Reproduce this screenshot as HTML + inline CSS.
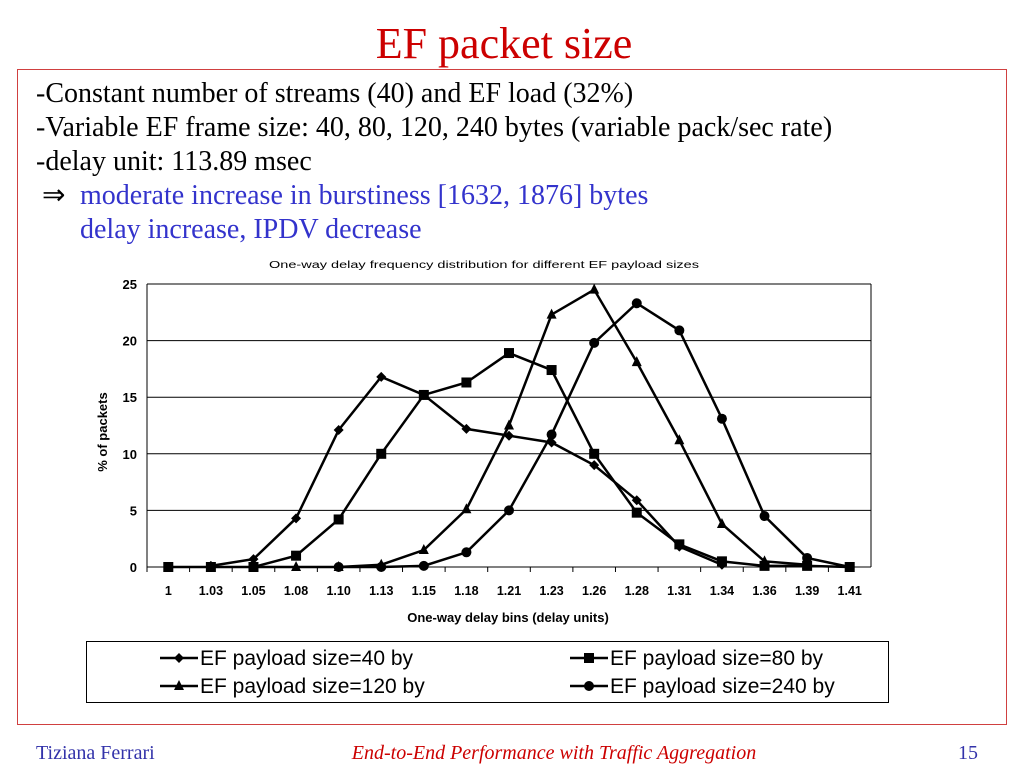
<!DOCTYPE html>
<html><head><meta charset="utf-8"><style>
html,body{margin:0;padding:0;background:#fff;width:1024px;height:768px;overflow:hidden}
</style></head><body>
<svg width="1024" height="768" viewBox="0 0 1024 768" xmlns="http://www.w3.org/2000/svg">
<text x="504" y="58" text-anchor="middle" font-family="Liberation Serif, serif" font-size="44" fill="#cc0000">EF packet size</text>
<rect x="17.5" y="69.5" width="989" height="655" fill="none" stroke="#d04040" stroke-width="1"/>
<g font-family="Liberation Serif, serif" font-size="28">
<text x="36" y="102" fill="#000">-Constant number of streams (40) and EF load (32%)</text>
<text x="36" y="136" fill="#000">-Variable EF frame size: 40, 80, 120, 240 bytes (variable pack/sec rate)</text>
<text x="36" y="170" fill="#000">-delay unit: 113.89 msec</text>
<text x="42" y="204" fill="#000">⇒</text>
<text x="80" y="204" fill="#3333cc">moderate increase in burstiness [1632, 1876] bytes</text>
<text x="80" y="238" fill="#3333cc">delay increase, IPDV decrease</text>
</g>
<text x="484" y="268" text-anchor="middle" font-family="Liberation Sans, sans-serif" font-size="10" textLength="430" lengthAdjust="spacingAndGlyphs">One-way delay frequency distribution for different EF payload sizes</text>
<g id="chart"></g>
<text x="107" y="432" text-anchor="middle" transform="rotate(-90 107 432)" font-family="Liberation Sans, sans-serif" font-size="13" font-weight="bold">% of packets</text>
<text x="508" y="622" text-anchor="middle" font-family="Liberation Sans, sans-serif" font-size="13" font-weight="bold">One-way delay bins (delay units)</text>
<rect x="86.5" y="641.5" width="802" height="61" fill="#fff" stroke="#000"/>
<g id="legend" font-family="Liberation Sans, sans-serif" font-size="21"></g>
<text x="36" y="759" font-family="Liberation Serif, serif" font-size="20" fill="#3333aa">Tiziana Ferrari</text>
<text x="554" y="759" text-anchor="middle" font-family="Liberation Serif, serif" font-size="20" font-style="italic" fill="#cc0000">End-to-End Performance with Traffic Aggregation</text>
<text x="978" y="759" text-anchor="end" font-family="Liberation Serif, serif" font-size="20" fill="#3333aa">15</text>
</svg>
<script>
const categories = ["1","1.03","1.05","1.08","1.10","1.13","1.15","1.18","1.21","1.23","1.26","1.28","1.31","1.34","1.36","1.39","1.41"];
const yTicks = [0,5,10,15,20,25];
const s40 = [null,0.1,0.7,4.3,12.1,16.8,15.2,12.2,11.6,11.0,9.0,5.9,1.8,0.2,null,null,null];
const s80 = [0,0,0,1.0,4.2,10.0,15.2,16.3,18.9,17.4,10.0,4.8,2.0,0.5,0.1,0.1,0];
const s120 = [null,null,0,0,0,0.2,1.5,5.1,12.5,22.3,24.5,18.1,11.2,3.8,0.5,0.2,null];
const s240 = [null,null,null,null,0,0,0.1,1.3,5.0,11.7,19.8,23.3,20.9,13.1,4.5,0.8,0];
const seriesNames = ["EF payload size=40 by","EF payload size=80 by","EF payload size=120 by","EF payload size=240 by"];

const NS="http://www.w3.org/2000/svg";
const X0=147,X1=871,Y0=567,Y1=284;
const band=(X1-X0)/categories.length;
const xs=i=>X0+band*(i+0.5);
const ys=v=>Y0-(v/25)*(Y0-Y1);
const g=document.getElementById('chart');
function mk(t,a,p){const e=document.createElementNS(NS,t);for(const k in a)e.setAttribute(k,a[k]);(p||g).appendChild(e);return e;}
yTicks.forEach(v=>{
  const l=mk('line',{x1:X0,x2:X1,y1:ys(v),y2:ys(v),stroke:'#000','stroke-width':1});
  
  
  const t=mk('text',{x:X0-10,y:ys(v)+5,'text-anchor':'end','font-family':'Liberation Sans, sans-serif','font-size':13,'font-weight':'bold'});
  t.textContent=v;
  
  
});
const ax=mk('line',{x1:X0,x2:X0,y1:Y1,y2:Y0,stroke:'#000'});


const rx=mk('line',{x1:X1,x2:X1,y1:Y1,y2:Y0,stroke:'#000'});


categories.forEach((c,i)=>{
  const tk=mk('line',{x1:X0+band*i,x2:X0+band*i,y1:Y0,y2:Y0+5,stroke:'#000'});
  
  
  const t=mk('text',{x:xs(i),y:Y0+28,'text-anchor':'middle','font-family':'Liberation Sans, sans-serif','font-size':12.5,'font-weight':'bold'});
  t.textContent=c;
  
  
});
function marker(type,x,y,parent){
  let e;
  if(type==0)e=mk('polygon',{points:`${x},${y-5} ${x+5},${y} ${x},${y+5} ${x-5},${y}`,fill:'#000'},parent);
  else if(type==1)e=mk('rect',{x:x-5,y:y-5,width:10,height:10,fill:'#000'},parent);
  else if(type==2)e=mk('polygon',{points:`${x},${y-6} ${x+5},${y+4} ${x-5},${y+4}`,fill:'#000'},parent);
  else e=mk('circle',{cx:x,cy:y,r:5,fill:'#000'},parent);
  return e;
}
[s40,s80,s120,s240].forEach((s,k)=>{
  const sg=mk('g',{});
  
  
  let d='';let started=false;
  s.forEach((v,i)=>{if(v===null){started=false;return;}d+=(started?'L':'M')+xs(i)+','+ys(v);started=true;});
  const p=mk('path',{d:d,fill:'none',stroke:'#000','stroke-width':2.5},sg);
  
  
  s.forEach((v,i)=>{if(v===null)return;const m=marker(k,xs(i),ys(v),sg);
    
    });
});
const lg=document.getElementById('legend');
const lpos=[[160,665],[570,665],[160,693],[570,693]];
seriesNames.forEach((n,k)=>{
  const [x,y]=lpos[k];
  const eg=mk('g',{},lg);
  
  
  mk('line',{x1:x,x2:x+38,y1:y-7,y2:y-7,stroke:'#000','stroke-width':2.5},eg);
  marker(k,x+19,y-7,eg);
  const t=mk('text',{x:x+40,y:y},eg);
  t.textContent=n;
});
</script>
</body></html>
